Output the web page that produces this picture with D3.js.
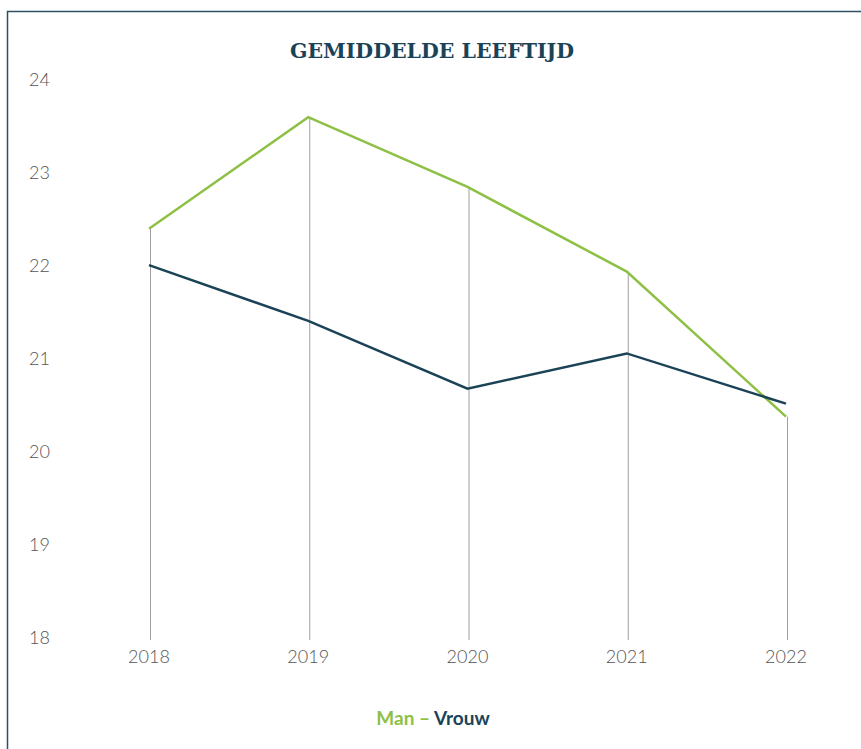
<!DOCTYPE html>
<html>
<head>
<meta charset="utf-8">
<script src="https://cdn.jsdelivr.net/npm/d3@7"></script>
<style>
  body { margin: 0; background: #fff; }
  svg { display: block; }
</style>
</head>
<body>
<div id="chart"></div>
<script>
// gemiddelde leeftijd per jaar
const years = ["2018", "2019", "2020", "2021", "2022"];
const man = [22.40, 23.60, 22.85, 21.94, 20.38];
const vrouw = [22.01, 21.41, 20.68, 21.06, 20.52];
const yTicks = [18, 19, 20, 21, 22, 23, 24];

const width = 861, height = 749;
const green = "#8dc044", navy = "#1b4357";

const svg = d3.select("#chart").append("svg")
    .attr("width", width)
    .attr("height", height);

// frame (left + top edge)
svg.append("path")
    .attr("d", `M7.5,${height} V11.5 H${width}`)
    .attr("fill", "none")
    .attr("stroke", "#2c4f61")
    .attr("stroke-width", 1.5);

const x = d3.scalePoint().domain(years).range([149, 786]);
const y = d3.scaleLinear().domain([18, 24]).range([638, 80]);

// y labels
svg.selectAll(".ylab")
    .data(yTicks)
    .enter().append("text")
    .attr("class", "ylab")
    .attr("x", 50)
    .attr("y", d => y(d))
    .attr("dy", "0.35em")
    .attr("text-anchor", "end")
    .attr("fill", "#555")
    .style("font-family", "Lato, 'Open Sans', sans-serif")
    .style("font-weight", 300)
    .style("font-size", "18px")
    .text(d => d);

// drop lines from the Man value to the baseline
svg.selectAll(".drop")
    .data(years)
    .enter().append("line")
    .attr("class", "drop")
    .attr("x1", d => x(d) + 1.5)
    .attr("x2", d => x(d) + 1.5)
    .attr("y1", (d, i) => y(man[i]))
    .attr("y2", y(18) + 2)
    .attr("stroke", "#a0a0a0")
    .attr("stroke-width", 1);

// x labels
svg.selectAll(".xlab")
    .data(years)
    .enter().append("text")
    .attr("class", "xlab")
    .attr("x", d => x(d))
    .attr("y", 663)
    .attr("text-anchor", "middle")
    .attr("fill", "#555")
    .style("font-family", "Lato, 'Open Sans', sans-serif")
    .style("font-weight", 300)
    .style("font-size", "18px")
    .text(d => d);

const line = d3.line()
    .x(d => x(d.year))
    .y(d => y(d.value));

[[man, green], [vrouw, navy]].forEach(([vals, color]) => {
    svg.append("path")
        .datum(years.map((yr, i) => ({ year: yr, value: vals[i] })))
        .attr("d", line)
        .attr("fill", "none")
        .attr("stroke", color)
        .attr("stroke-width", 2.5);
});

// title
svg.append("text")
    .attr("x", 432)
    .attr("y", 58)
    .attr("text-anchor", "middle")
    .attr("fill", navy)
    .style("font-family", "'DejaVu Serif', serif")
    .style("font-weight", "bold")
    .style("font-size", "20.5px")
    .text("GEMIDDELDE LEEFTIJD");

// legend
const legend = svg.append("text")
    .attr("x", 433)
    .attr("y", 725)
    .attr("text-anchor", "middle")
    .style("font-family", "Lato, 'Open Sans', sans-serif")
    .style("font-weight", "bold")
    .style("font-size", "19px");
legend.append("tspan").attr("fill", green).text("Man – ");
legend.append("tspan").attr("fill", navy).text("Vrouw");
</script>
</body>
</html>
